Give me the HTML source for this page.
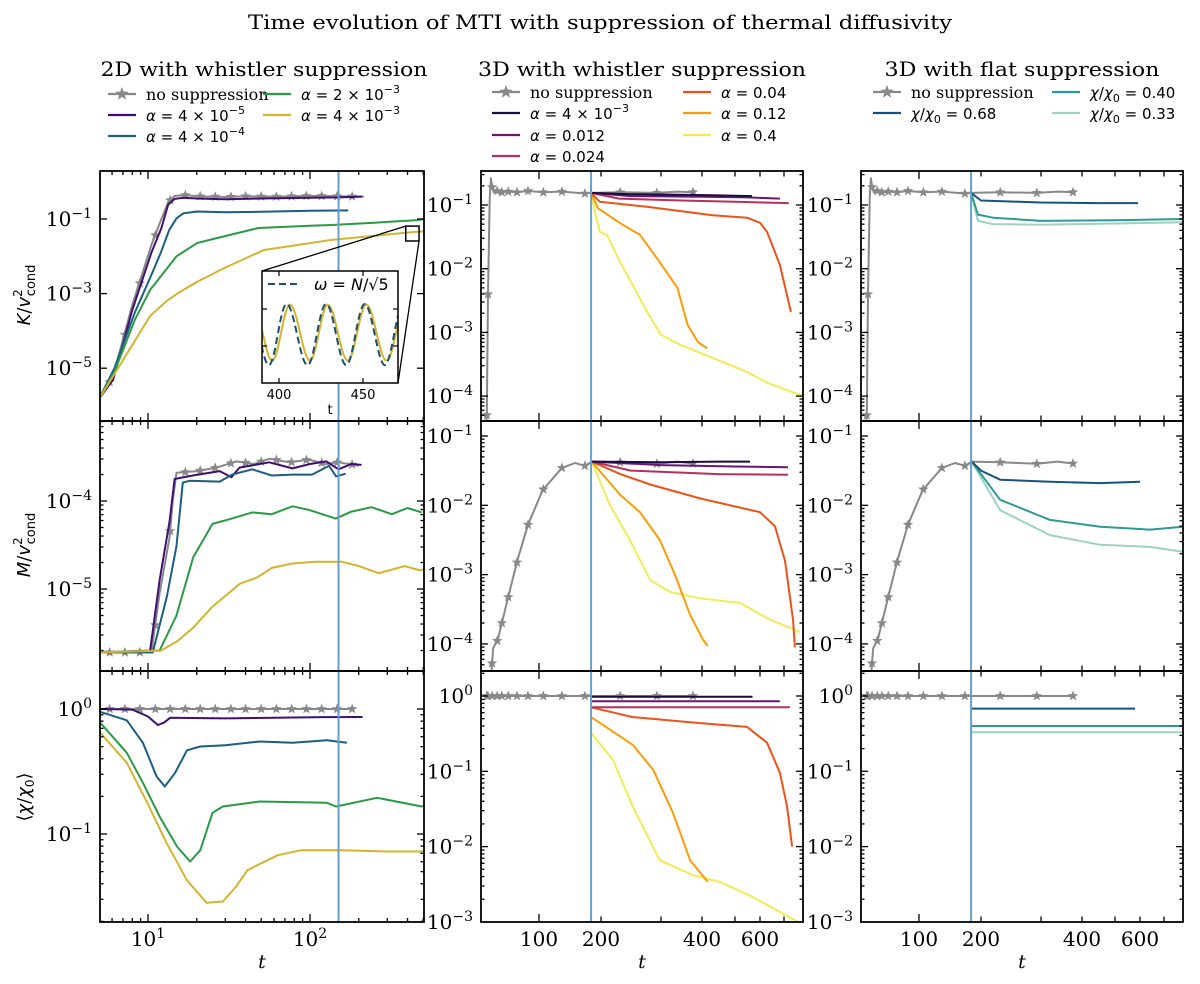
<!DOCTYPE html>
<html><head><meta charset="utf-8">
<style>html,body{margin:0;padding:0;background:#fff;width:1200px;height:984px;overflow:hidden}svg{display:block}</style>
</head><body>
<svg id="fig" width="1200" height="984" viewBox="0 0 1200 984" xmlns="http://www.w3.org/2000/svg" font-family="'DejaVu Serif','Liberation Serif',serif">
<rect x="0" y="0" width="1200" height="984" fill="#fff"/>
<text x="600" y="29" text-anchor="middle" font-size="19.5" textLength="704" lengthAdjust="spacingAndGlyphs">Time evolution of MTI with suppression of thermal diffusivity</text>
<text x="264" y="76" text-anchor="middle" font-size="19.5" textLength="327" lengthAdjust="spacingAndGlyphs">2D with whistler suppression</text>
<text x="642" y="76" text-anchor="middle" font-size="19.5" textLength="328" lengthAdjust="spacingAndGlyphs">3D with whistler suppression</text>
<text x="1022" y="76" text-anchor="middle" font-size="19.5" textLength="275" lengthAdjust="spacingAndGlyphs">3D with flat suppression</text>
<g font-family="'DejaVu Sans','Liberation Sans',sans-serif" font-size="18">
<text transform="translate(30,295) rotate(-90)" text-anchor="middle"><tspan font-style="italic">K</tspan>/<tspan font-style="italic">v</tspan><tspan font-size="12" dy="-8">2</tspan><tspan font-size="13" dx="-7" dy="13">cond</tspan></text>
<text transform="translate(30,545) rotate(-90)" text-anchor="middle"><tspan font-style="italic">M</tspan>/<tspan font-style="italic">v</tspan><tspan font-size="12" dy="-8">2</tspan><tspan font-size="13" dx="-7" dy="13">cond</tspan></text>
<text transform="translate(30,797) rotate(-90)" text-anchor="middle">⟨<tspan font-style="italic">χ</tspan>/<tspan font-style="italic">χ</tspan><tspan font-size="12" dy="4">0</tspan><tspan dy="-4">⟩</tspan></text>
</g>
<g font-family="'DejaVu Serif','Liberation Serif',serif" font-size="19" font-style="italic">
<text x="262" y="968" text-anchor="middle">t</text>
<text x="642" y="968" text-anchor="middle">t</text>
<text x="1022" y="968" text-anchor="middle">t</text>
</g>
</svg>
<script>
// ---------- DATA (t, log10 value) ----------
const k2dNone=[[5,-5.82],[6.1,-5.2],[8.0,-3.3],[10.5,-1.7],[12.1,-1.0],[13.3,-0.55],[14.6,-0.38],[17,-0.36],[20,-0.39],[30,-0.41],[40,-0.39],[60,-0.4],[100,-0.38],[150,-0.39],[215,-0.4]];
const k2dA4e5=[[5,-5.82],[6.1,-5.3],[8.0,-3.44],[10.5,-1.9],[12.1,-1.24],[13.3,-0.62],[14.6,-0.46],[16.5,-0.43],[20,-0.45],[30,-0.47],[50,-0.45],[100,-0.43],[150,-0.42],[210,-0.4]];
const k2dA4e4=[[5,-5.82],[6.2,-5.0],[8.3,-3.5],[10.5,-2.5],[12,-1.9],[13.5,-1.3],[15,-0.98],[16.5,-0.85],[20,-0.8],[30,-0.82],[60,-0.8],[100,-0.78],[172,-0.77]];
const k2dA2e3=[[5,-5.82],[6.2,-5.1],[8.3,-3.7],[10.3,-2.9],[11.8,-2.58],[15,-2.0],[20,-1.65],[24,-1.56],[48,-1.24],[100,-1.18],[136,-1.16],[250,-1.1],[460,-1.03],[506,-1.0]];
const k2dA4e3=[[5,-5.82],[7.2,-4.7],[10.3,-3.6],[13,-3.2],[15.4,-2.98],[20,-2.69],[30,-2.3],[52,-1.83],[136,-1.56],[250,-1.45],[430,-1.35],[506,-1.33]];
const m2dNone=[[5,-5.72],[10.5,-5.72],[11.8,-5.05],[13.6,-4.41],[14.2,-4.0],[15,-3.68],[20,-3.66],[26.5,-3.62],[35,-3.55],[45,-3.58],[56,-3.52],[75,-3.56],[98,-3.53],[125,-3.58],[150,-3.56],[200,-3.6]];
const m2dA4e5=[[5,-5.72],[10.3,-5.7],[11.8,-4.9],[13.6,-4.23],[14.6,-3.75],[18.9,-3.71],[27.7,-3.66],[32.7,-3.73],[36.7,-3.62],[56,-3.56],[78,-3.63],[100,-3.58],[126,-3.55],[150,-3.64],[180,-3.58],[208,-3.59]];
const m2dA4e4=[[5,-5.72],[10.7,-5.72],[13.1,-5.08],[15,-4.51],[16.4,-3.79],[18.1,-3.77],[27.7,-3.78],[33,-3.7],[44,-3.64],[58,-3.71],[78,-3.7],[103,-3.7],[131,-3.6],[145,-3.72],[166,-3.69]];
const m2dA2e3=[[5,-5.72],[11.8,-5.7],[15,-5.3],[19,-4.64],[25,-4.26],[30,-4.22],[44,-4.13],[58,-4.15],[78,-4.06],[98,-4.1],[144,-4.2],[180,-4.12],[240,-4.07],[320,-4.15],[400,-4.08],[490,-4.13]];
const m2dA4e3=[[5,-5.72],[12,-5.7],[15,-5.6],[19,-5.44],[25,-5.2],[37,-4.94],[47,-4.87],[58,-4.76],[78,-4.71],[108,-4.69],[157,-4.69],[200,-4.74],[265,-4.82],[385,-4.74],[480,-4.79],[506,-4.77]];
const c2dNone=[[5,0],[182,0]];
const c2dA4e5=[[5,0],[8,-0.005],[10,-0.06],[11.5,-0.128],[12.5,-0.11],[13.7,-0.07],[30,-0.075],[60,-0.07],[120,-0.065],[211,-0.064]];
const c2dA4e4=[[5,-0.02],[7.4,-0.09],[9.3,-0.27],[11.3,-0.54],[12.7,-0.62],[14.7,-0.51],[17.4,-0.33],[21,-0.3],[30,-0.29],[49,-0.26],[78,-0.27],[127,-0.25],[169,-0.27]];
const c2dA2e3=[[5,-0.1],[7.4,-0.35],[9.3,-0.59],[11.8,-0.86],[15.1,-1.1],[18.2,-1.22],[21,-1.13],[25,-0.83],[29,-0.78],[49,-0.74],[127,-0.75],[145,-0.78],[259,-0.71],[490,-0.78],[506,-0.77]];
const c2dA4e3=[[5,-0.18],[7.4,-0.43],[9.9,-0.75],[13,-1.07],[17.4,-1.37],[23,-1.55],[29,-1.54],[35,-1.42],[41,-1.29],[49,-1.24],[63,-1.17],[87,-1.13],[158,-1.13],[300,-1.14],[506,-1.14]];

const k3dNone=[[5,-5],[8,-4.6],[10,-4.3],[12,-2.4],[15,-0.9],[17,-0.58],[19,-0.72],[22,-0.8],[28,-0.78],[36,-0.8],[47,-0.79],[62,-0.8],[81,-0.78],[107,-0.8],[137,-0.79],[174,-0.82],[184,-0.81],[232,-0.8],[293,-0.81],[340,-0.79],[383,-0.8]];
const k3dA004=[[184,-0.81],[250,-0.83],[350,-0.84],[450,-0.85],[568,-0.86]];
const k3dA012=[[184,-0.81],[250,-0.86],[400,-0.87],[550,-0.88],[683,-0.9]];
const k3dA024=[[184,-0.81],[230,-0.9],[350,-0.93],[500,-0.95],[720,-0.97]];
const k3dA04=[[184,-0.81],[198,-0.95],[278,-1.03],[432,-1.16],[548,-1.2],[600,-1.28],[629,-1.42],[683,-1.94],[729,-2.68]];
const k3dA12=[[184,-0.81],[195,-1.05],[231,-1.28],[265,-1.47],[298,-1.9],[340,-2.3],[365,-2.88],[390,-3.15],[415,-3.25]];
const k3dA4=[[184,-0.81],[190,-1.1],[198,-1.42],[210,-1.47],[232,-1.9],[253,-2.26],[277,-2.68],[300,-3.04],[348,-3.2],[432,-3.4],[548,-3.62],[629,-3.79],[780,-4.0]];
const m3dNone=[[15,-5],[17,-4.5],[21,-4.06],[29,-3.94],[38,-3.63],[48,-3.29],[63,-2.79],[81,-2.28],[106,-1.78],[137,-1.46],[158,-1.39],[174,-1.43],[185,-1.37],[232,-1.38],[293,-1.4],[340,-1.37],[383,-1.4]];
const m3dA004=[[185,-1.37],[300,-1.38],[450,-1.37],[560,-1.37]];
const m3dA012=[[185,-1.37],[300,-1.42],[500,-1.44],[717,-1.45]];
const m3dA024=[[185,-1.37],[250,-1.5],[450,-1.55],[717,-1.56]];
const m3dA04=[[185,-1.37],[232,-1.55],[282,-1.7],[395,-1.9],[600,-2.1],[662,-2.3],[704,-2.8],[738,-3.65],[746,-4.05]];
const m3dA12=[[185,-1.37],[232,-1.85],[265,-2.1],[298,-2.5],[334,-3.0],[371,-3.58],[403,-3.94],[418,-4.03]];
const m3dA4=[[185,-1.37],[215,-2.0],[248,-2.5],[282,-3.08],[322,-3.25],[395,-3.34],[520,-3.41],[642,-3.65],[767,-3.83]];
const c3dNone=[[3,0],[383,0]];
const c3dA004=[[184,-0.01],[570,-0.01]];
const c3dA012=[[184,-0.07],[683,-0.07]];
const c3dA024=[[184,-0.15],[725,-0.15]];
const c3dA04=[[184,-0.15],[253,-0.28],[395,-0.36],[548,-0.41],[629,-0.62],[683,-1.02],[713,-1.47],[734,-2.0]];
const c3dA12=[[184,-0.28],[253,-0.65],[287,-0.98],[329,-1.55],[371,-2.18],[418,-2.47]];
const c3dA4=[[184,-0.49],[220,-0.85],[253,-1.47],[298,-2.18],[378,-2.38],[455,-2.47],[572,-2.67],[759,-3.0]];

const kFlat068=[[184,-0.81],[200,-0.93],[300,-0.96],[450,-0.97],[592,-0.97]];
const kFlat040=[[184,-0.81],[195,-1.15],[220,-1.2],[300,-1.25],[500,-1.24],[780,-1.22]];
const kFlat033=[[184,-0.81],[195,-1.25],[220,-1.3],[300,-1.31],[500,-1.29],[780,-1.27]];
const mFlat068=[[185,-1.37],[200,-1.5],[232,-1.63],[322,-1.66],[455,-1.68],[600,-1.66]];
const mFlat040=[[185,-1.37],[232,-1.92],[322,-2.21],[455,-2.31],[642,-2.35],[780,-2.31]];
const mFlat033=[[185,-1.37],[232,-2.07],[322,-2.43],[455,-2.57],[642,-2.6],[780,-2.67]];
const cFlat068=[[184,-0.167],[580,-0.167]];
const cFlat040=[[184,-0.398],[780,-0.398]];
const cFlat033=[[184,-0.481],[780,-0.481]];

const stars2dT=[5.8,7.2,8.9,11.1,13.7,17,21,26,32.5,40,50,62,77,95,118,147,182];
const stars3dT=[10,12,19,28,36,47,62,81,107,137,174,232,293,378];
const vline2dT=150, vline3dT=184;

// inset: peaks/troughs (t, normalized amplitude)
const insetGold=[[384.5,0.70],[396,0.20],[406.5,0.70],[418.5,0.20],[429,0.70],[441,0.20],[452,0.70],[464,0.20],[475.5,0.70]];
const insetWave=[[382.5,0.705],[394,0.16],[404.5,0.705],[417,0.16],[428,0.705],[440,0.16],[451,0.705],[463,0.16],[474,0.705]];
const insetTicksT=[400,450];
const insetWindow={t0:390,t1:471,l0:-1.59,l1:-1.19};

// ---------- SCALES ----------
const NS='http://www.w3.org/2000/svg';
const svg=document.getElementById('fig');
function mk(tag,attrs,parent){const e=document.createElementNS(NS,tag);for(const k in attrs)e.setAttribute(k,attrs[k]);(parent||svg).appendChild(e);return e;}
const COLS=[{x0:100,x1:424},{x0:481,x1:803},{x0:861,x1:1183}];
const ROWS=[{y0:171,y1:421},{y0:421,y1:671},{y0:671,y1:922}];
const TK=[0,100,200,300,400,500,600,700,780], OK=[0,58,120,180,221,254,279,303,322];
function x2d(t){return 148+(Math.log10(t)-1)*162;}
function x3dOff(t){for(let i=1;i<TK.length;i++){if(t<=TK[i]||i===TK.length-1){return OK[i-1]+(t-TK[i-1])/(TK[i]-TK[i-1])*(OK[i]-OK[i-1]);}}}
function xf(col){return col===0?x2d:(t=>COLS[col].x0+x3dOff(t));}
const YS2D=[{ref:219,refL:-1,dec:37.3,majors:[-1,-3,-5],minor:false},{ref:501,refL:-4,dec:88,majors:[-4,-5],minor:true},{ref:709,refL:0,dec:125,majors:[0,-1],minor:true}];
const YS3D=[{ref:205,refL:-1,dec:63.7,majors:[-1,-2,-3,-4],minor:true},{ref:436,refL:-1,dec:69.3,majors:[-1,-2,-3,-4],minor:true},{ref:696,refL:0,dec:75.3,majors:[0,-1,-2,-3],minor:true}];
function ys(row,col){return col===0?YS2D[row]:YS3D[row];}
function yf(s){return l=>s.ref-(l-s.refL)*s.dec;}

function supText(g,x,y,anchor,base,exp,size){
  const t=mk('text',{x:x,y:y,'text-anchor':anchor,'font-size':size},g);
  t.appendChild(document.createTextNode(base));
  const s=mk('tspan',{dy:-8,'font-size':Math.round(size*0.7)},t);
  s.textContent=exp;
  return t;
}
function interp(pts,t){for(let i=1;i<pts.length;i++){if(t<=pts[i][0]){const a=pts[i-1],b=pts[i];return a[1]+(b[1]-a[1])*(t-a[0])/(b[0]-a[0]);}}return pts[pts.length-1][1];}
function starPts(cx,cy,r){let p=[];for(let i=0;i<10;i++){const rr=i%2?r*0.42:r;const a=-Math.PI/2+i*Math.PI/5;p.push((cx+rr*Math.cos(a)).toFixed(1)+','+(cy+rr*Math.sin(a)).toFixed(1));}return p.join(' ');}

const ROWNAMES=['kinetic','magnetic','diffusivity'];
const COLNAMES=['2d-whistler','3d-whistler','3d-flat'];
const C2D={none:'#888888',a:'#3f0f72',b:'#1a5e80',c:'#2a9a45',d:'#d3b42e'};
const C3D={none:'#888888',a:'#1b0c41',b:'#6a176e',c:'#b5305a',d:'#ed5218',e:'#fb9b06',f:'#f3ea55'};
const CFL={none:'#888888',a:'#17547b',b:'#2e9a96',c:'#9ed2be'};

const SERIES={
 '0,0':[['no-suppression',k2dNone,C2D.none],['alpha-4e-5',k2dA4e5,C2D.a],['alpha-4e-4',k2dA4e4,C2D.b],['alpha-2e-3',k2dA2e3,C2D.c],['alpha-4e-3',k2dA4e3,C2D.d]],
 '1,0':[['no-suppression',m2dNone,C2D.none],['alpha-4e-5',m2dA4e5,C2D.a],['alpha-4e-4',m2dA4e4,C2D.b],['alpha-2e-3',m2dA2e3,C2D.c],['alpha-4e-3',m2dA4e3,C2D.d]],
 '2,0':[['no-suppression',c2dNone,C2D.none],['alpha-4e-5',c2dA4e5,C2D.a],['alpha-4e-4',c2dA4e4,C2D.b],['alpha-2e-3',c2dA2e3,C2D.c],['alpha-4e-3',c2dA4e3,C2D.d]],
 '0,1':[['no-suppression',k3dNone,C3D.none],['alpha-0.4',k3dA4,C3D.f],['alpha-0.12',k3dA12,C3D.e],['alpha-0.04',k3dA04,C3D.d],['alpha-0.024',k3dA024,C3D.c],['alpha-0.012',k3dA012,C3D.b],['alpha-4e-3',k3dA004,C3D.a]],
 '1,1':[['no-suppression',m3dNone,C3D.none],['alpha-0.4',m3dA4,C3D.f],['alpha-0.12',m3dA12,C3D.e],['alpha-0.04',m3dA04,C3D.d],['alpha-0.024',m3dA024,C3D.c],['alpha-0.012',m3dA012,C3D.b],['alpha-4e-3',m3dA004,C3D.a]],
 '2,1':[['no-suppression',c3dNone,C3D.none],['alpha-0.4',c3dA4,C3D.f],['alpha-0.12',c3dA12,C3D.e],['alpha-0.04',c3dA04,C3D.d],['alpha-0.024',c3dA024,C3D.c],['alpha-0.012',c3dA012,C3D.b],['alpha-4e-3',c3dA004,C3D.a]],
 '0,2':[['no-suppression',k3dNone,CFL.none],['chi-0.33',kFlat033,CFL.c],['chi-0.40',kFlat040,CFL.b],['chi-0.68',kFlat068,CFL.a]],
 '1,2':[['no-suppression',m3dNone,CFL.none],['chi-0.33',mFlat033,CFL.c],['chi-0.40',mFlat040,CFL.b],['chi-0.68',mFlat068,CFL.a]],
 '2,2':[['no-suppression',c3dNone,CFL.none],['chi-0.33',cFlat033,CFL.c],['chi-0.40',cFlat040,CFL.b],['chi-0.68',cFlat068,CFL.a]]
};

for(let r=0;r<3;r++)for(let c=0;c<3;c++){
  const C=COLS[c],R=ROWS[r],S=ys(r,c),X=xf(c),Y=yf(S);
  const pname=ROWNAMES[r]+'-'+COLNAMES[c];
  const g=mk('g',{});
  
  
  const cp=mk('clipPath',{id:'cp'+r+c},g);
  mk('rect',{x:C.x0,y:R.y0,width:C.x1-C.x0,height:R.y1-R.y0},cp);
  const dg=mk('g',{'clip-path':'url(#cp'+r+c+')'},g);
  for(const [nm,pts,col] of SERIES[r+','+c]){
    const d=pts.map((p,i)=>(i?'L':'M')+X(p[0]).toFixed(1)+' '+Y(p[1]).toFixed(1)).join(' ');
    const path=mk('path',{d:d,fill:'none',stroke:col,'stroke-width':2,'stroke-linejoin':'round'},dg);
    
    
    if(nm==='no-suppression'){
      const st=c===0?stars2dT:stars3dT;
      for(const t of st){
        if(t<pts[0][0]||t>pts[pts.length-1][0])continue;
        const s=mk('polygon',{points:starPts(X(t),Y(interp(pts,t)),5.5),fill:col},dg);
        
        
      }
    }
  }
  const vt=c===0?vline2dT:vline3dT;
  const vl=mk('line',{x1:X(vt),x2:X(vt),y1:R.y0,y2:R.y1,stroke:'#6b9ec8','stroke-width':2},dg);
  
  
  const tg=mk('g',{stroke:'#000','stroke-width':1.3},g);
  const yt=[];
  for(const m of S.majors)yt.push([m,7]);
  if(S.minor){for(let d=-7;d<=1;d++)for(let k=2;k<10;k++)yt.push([d+Math.log10(k),3.5]);}
  for(const [l,len] of yt){const y=Y(l);if(y<=R.y0+0.5||y>=R.y1-0.5)continue;
    mk('line',{x1:C.x0,x2:C.x0+len,y1:y,y2:y},tg);mk('line',{x1:C.x1,x2:C.x1-len,y1:y,y2:y},tg);}
  const lg=mk('g',{'font-size':20},g);
  for(const m of S.majors){const y=Y(m);if(y<R.y0-2||y>R.y1+2)continue;
    const t=supText(lg,C.x0-8,y+7,'end','10',m===0?'0':'\u2212'+(-m),20);
    
    }
  let xt=[];
  if(c===0){for(const d of [1,10,100])for(let k=1;k<10;k++){const t=d*k;if(t>=5&&t<=506)xt.push([t,k===1?8:4]);}}
  else{for(const t of [100,200,300,400,500,600,700])xt.push([t,t===100?8:5.5]);}
  for(const [t,len] of xt){const x=X(t);if(x<=C.x0+0.5||x>=C.x1-0.5)continue;
    mk('line',{x1:x,x2:x,y1:R.y1,y2:R.y1-len},tg);mk('line',{x1:x,x2:x,y1:R.y0,y2:R.y0+len},tg);}
  if(r===2){
    if(c===0){for(const [t,e] of [[10,'1'],[100,'2']]){const tt=supText(lg,X(t),946,'middle','10',e,20);
      
      }}
    else{for(const t of [100,200,400,600]){const tt=mk('text',{x:X(t),y:946,'text-anchor':'middle'},lg);tt.textContent=String(t);
      
      }}
  }
  const fr=mk('rect',{x:C.x0,y:R.y0,width:C.x1-C.x0,height:R.y1-R.y0,fill:'none',stroke:'#000','stroke-width':1.8},g);
  
  

  if(r===0&&c===0){
    const W=insetWindow;
    const rx0=X(W.t0),rx1=X(W.t1),ry0=Y(W.l1),ry1=Y(W.l0);
    const zr=mk('rect',{x:rx0,y:ry0,width:rx1-rx0,height:ry1-ry0,fill:'none',stroke:'#000','stroke-width':1.5},g);
    
    
    const IX0=262,IX1=398,IY0=271,IY1=383;
    const l1=mk('line',{x1:IX0,y1:IY0,x2:rx0,y2:ry0,stroke:'#000','stroke-width':1.3},g);
    
    
    const l2=mk('line',{x1:IX1,y1:IY1,x2:rx1,y2:ry1,stroke:'#000','stroke-width':1.3},g);
    
    
    const ig=mk('g',{});
    
    
    mk('rect',{x:IX0,y:IY0,width:IX1-IX0,height:IY1-IY0,fill:'#fff'},ig);
    const icp=mk('clipPath',{id:'icp'},ig);
    mk('rect',{x:IX0,y:IY0,width:IX1-IX0,height:IY1-IY0},icp);
    const IXf=t=>279+(t-400)*84/50, IYf=v=>IY1-v*112;
    function wave(pts){let d='M'+IXf(pts[0][0])+' '+IYf(pts[0][1]);
      for(let i=1;i<pts.length;i++){const a=pts[i-1],b=pts[i];const x0=IXf(a[0]),x1=IXf(b[0]),dx=x1-x0;
        d+=' C'+(x0+dx*0.36).toFixed(1)+' '+IYf(a[1]).toFixed(1)+' '+(x1-dx*0.36).toFixed(1)+' '+IYf(b[1]).toFixed(1)+' '+x1.toFixed(1)+' '+IYf(b[1]).toFixed(1);}
      return d;}
    const icg=mk('g',{'clip-path':'url(#icp)'},ig);
    const gp=mk('path',{d:wave(insetGold),fill:'none',stroke:C2D.d,'stroke-width':2},icg);
    
    
    const wp=mk('path',{d:wave(insetWave),fill:'none',stroke:'#1a4f72','stroke-width':2,'stroke-dasharray':'7,4'},icg);
    
    
    const itg=mk('g',{stroke:'#000','stroke-width':1.2},ig);
    for(const t of insetTicksT){mk('line',{x1:IXf(t),x2:IXf(t),y1:IY1,y2:IY1-5},itg);mk('line',{x1:IXf(t),x2:IXf(t),y1:IY0,y2:IY0+5},itg);}
    for(const y of [309,346]){mk('line',{x1:IX0,x2:IX0+5,y1:y,y2:y},itg);mk('line',{x1:IX1,x2:IX1-5,y1:y,y2:y},itg);}
    mk('rect',{x:IX0,y:IY0,width:IX1-IX0,height:IY1-IY0,fill:'none',stroke:'#000','stroke-width':1.5},ig);
    for(const t of insetTicksT){const tl=mk('text',{x:IXf(t),y:399,'text-anchor':'middle','font-size':13,'font-family':"'DejaVu Sans',sans-serif"},ig);tl.textContent=String(t);
      
      }
    const ixl=mk('text',{x:330,y:414,'text-anchor':'middle','font-size':13,'font-family':"'DejaVu Sans',sans-serif"},ig);ixl.textContent='t';
    
    
    mk('line',{x1:268,x2:301,y1:284,y2:284,stroke:'#1a4f72','stroke-width':2,'stroke-dasharray':'7,4'},ig);
    const it=mk('text',{x:314,y:290,'font-size':16,'font-family':"'DejaVu Sans',sans-serif"},ig);
    
    
    it.innerHTML='<tspan font-style="italic">ω</tspan> = <tspan font-style="italic">N</tspan>/√5';
  }
}

// ---------- LEGENDS ----------
const legends=[
 {name:'legend-2d',entries:[
  {x:108,y:94,col:C2D.none,star:true,lab:['t','no suppression']},
  {x:108,y:115,col:C2D.a,lab:['a','4','\u22125']},
  {x:108,y:136,col:C2D.b,lab:['a','4','\u22124']},
  {x:263,y:94,col:C2D.c,lab:['a','2','\u22123']},
  {x:263,y:115,col:C2D.d,lab:['a','4','\u22123']}]},
 {name:'legend-3d-whistler',entries:[
  {x:492,y:92,col:C3D.none,star:true,lab:['t','no suppression']},
  {x:492,y:113,col:C3D.a,lab:['a','4','\u22123']},
  {x:492,y:135,col:C3D.b,lab:['v','α','0.012']},
  {x:492,y:156,col:C3D.c,lab:['v','α','0.024']},
  {x:683,y:92,col:C3D.d,lab:['v','α','0.04']},
  {x:683,y:113,col:C3D.e,lab:['v','α','0.12']},
  {x:683,y:135,col:C3D.f,lab:['v','α','0.4']}]},
 {name:'legend-3d-flat',entries:[
  {x:873,y:92,col:CFL.none,star:true,lab:['t','no suppression']},
  {x:873,y:113,col:CFL.a,lab:['c','0.68']},
  {x:1052,y:92,col:CFL.b,lab:['c','0.40']},
  {x:1052,y:113,col:CFL.c,lab:['c','0.33']}]}
];
for(const L of legends){
  const g=mk('g',{});
  
  
  for(const e of L.entries){
    const eg=mk('g',{},g);
    
    
    mk('line',{x1:e.x,x2:e.x+28,y1:e.y,y2:e.y,stroke:e.col,'stroke-width':2.2},eg);
    if(e.star)mk('polygon',{points:starPts(e.x+14,e.y,7),fill:e.col},eg);
    const tx=e.x+38,ty=e.y+6;
    const t=mk('text',{x:tx,y:ty,'font-size':16},eg);
    const lab=e.lab;
    if(lab[0]==='t'){t.textContent=lab[1];}
    else{
      t.setAttribute('font-family',"'DejaVu Sans','Liberation Sans',sans-serif");
      t.setAttribute('font-size','15');
      if(lab[0]==='a'){t.innerHTML='<tspan font-style="italic">α</tspan> = '+lab[1]+' × 10<tspan dy="-7" font-size="11">'+lab[2]+'</tspan>';}
      else if(lab[0]==='v'){t.innerHTML='<tspan font-style="italic">α</tspan> = '+lab[2];}
      else{t.innerHTML='<tspan font-style="italic">χ</tspan>/<tspan font-style="italic">χ</tspan><tspan font-size="11" dy="4">0</tspan><tspan dy="-4"> = '+lab[1]+'</tspan>';}
    }
  }
}
</script>
</body></html>
